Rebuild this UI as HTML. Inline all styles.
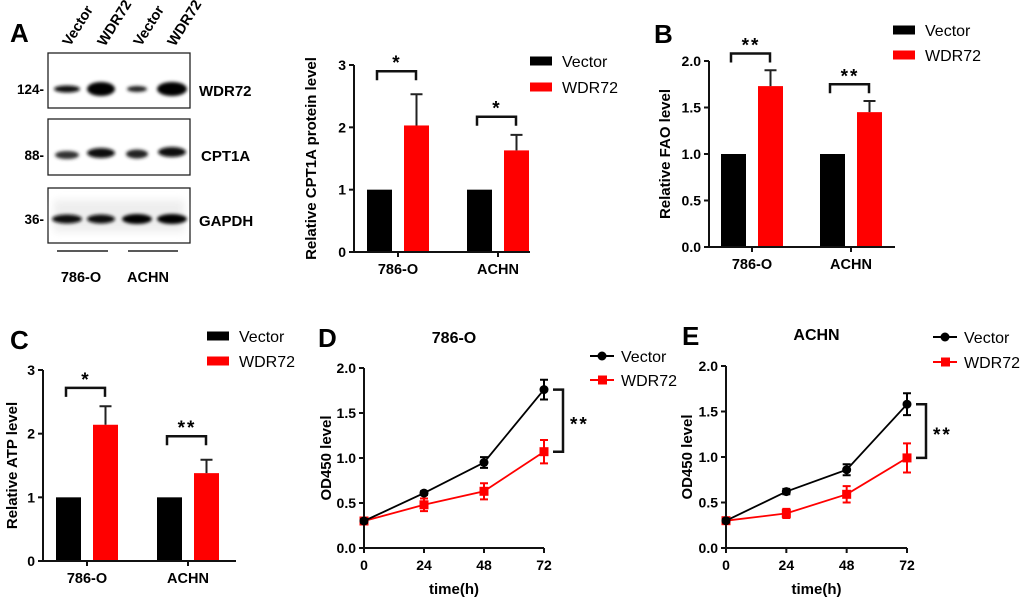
<!DOCTYPE html>
<html><head><meta charset="utf-8"><style>
html,body{margin:0;padding:0;background:#fff}
svg{display:block;font-family:"Liberation Sans",Arial,sans-serif}
.b{font-weight:bold}
</style></head><body>
<svg id="fig" width="1020" height="601" viewBox="0 0 1020 601" xmlns="http://www.w3.org/2000/svg">
<defs><filter id="blur" x="-50%" y="-100%" width="200%" height="300%"><feGaussianBlur stdDeviation="1.6"/></filter>
<filter id="blur2" x="-50%" y="-100%" width="200%" height="300%"><feGaussianBlur stdDeviation="4"/></filter></defs>
<g id="blot">
<text x="10" y="42" font-size="26" class="b">A</text>
<text transform="translate(70,47) rotate(-58)" font-size="14.5" class="b">Vector</text>
<text transform="translate(105,47) rotate(-58)" font-size="14.5" class="b">WDR72</text>
<text transform="translate(141,47) rotate(-58)" font-size="14.5" class="b">Vector</text>
<text transform="translate(175,47) rotate(-58)" font-size="14.5" class="b">WDR72</text>
<g>
<rect x="48" y="53" width="142" height="55" fill="#fff" stroke="#222" stroke-width="1.3"/>
<ellipse cx="67" cy="89" rx="13" ry="3.5" fill="#111" filter="url(#blur)"/>
<ellipse cx="101" cy="89" rx="14" ry="7" fill="#000" filter="url(#blur)"/>
<ellipse cx="137" cy="89" rx="10" ry="3" fill="#222" filter="url(#blur)"/>
<ellipse cx="172" cy="89" rx="15" ry="7" fill="#000" filter="url(#blur)"/>
</g>
<g>
<rect x="48" y="119" width="142" height="56" fill="#fff" stroke="#222" stroke-width="1.3"/>
<ellipse cx="67" cy="155" rx="12" ry="4" fill="#333" filter="url(#blur)"/>
<ellipse cx="101" cy="153" rx="14" ry="5" fill="#111" filter="url(#blur)"/>
<ellipse cx="137" cy="154" rx="11" ry="4.5" fill="#222" filter="url(#blur)"/>
<ellipse cx="172" cy="152" rx="14" ry="5" fill="#111" filter="url(#blur)"/>
</g>
<g>
<rect x="48" y="188" width="142" height="55" fill="#fff" stroke="#222" stroke-width="1.3"/>
<rect x="54" y="200" width="130" height="32" fill="#eee" filter="url(#blur2)"/>
<ellipse cx="67" cy="219" rx="15" ry="4.5" fill="#111" filter="url(#blur)"/>
<ellipse cx="101" cy="219" rx="14" ry="4.5" fill="#111" filter="url(#blur)"/>
<ellipse cx="137" cy="219" rx="15" ry="5" fill="#000" filter="url(#blur)"/>
<ellipse cx="172" cy="219" rx="15" ry="5" fill="#000" filter="url(#blur)"/>
</g>
<text x="44" y="94" font-size="13.5" class="b" text-anchor="end">124-</text>
<text x="44" y="160" font-size="13.5" class="b" text-anchor="end">88-</text>
<text x="44" y="224" font-size="13.5" class="b" text-anchor="end">36-</text>
<text x="199" y="96" font-size="15" class="b">WDR72</text>
<text x="201" y="161" font-size="15" class="b">CPT1A</text>
<text x="199" y="226" font-size="15" class="b">GAPDH</text>
<line x1="57" y1="251" x2="108" y2="251" stroke="#222" stroke-width="1.5"/>
<line x1="128" y1="251" x2="178" y2="251" stroke="#222" stroke-width="1.5"/>
<text x="81" y="282" font-size="14.5" class="b" text-anchor="middle">786-O</text>
<text x="148" y="282" font-size="14.5" class="b" text-anchor="middle">ACHN</text>
</g>
</svg>
<script>
const cats = ["786-O", "ACHN"];
const aVector = [1, 1];
const aWdr = [2.03, 1.63];
const aWdrErr = [0.5, 0.25];
const aSig = ["*", "*"];
const aSigLevel = [2.9, 2.17];
const aTicks = [0, 1, 2, 3];
const bVector = [1, 1];
const bWdr = [1.73, 1.45];
const bWdrErr = [0.17, 0.12];
const bSig = ["**", "**"];
const bSigLevel = [2.08, 1.75];
const bTicks = [0, 0.5, 1.0, 1.5, 2.0];
const bTickLabels = ["0.0", "0.5", "1.0", "1.5", "2.0"];
const cVector = [1, 1];
const cWdr = [2.14, 1.38];
const cWdrErr = [0.29, 0.21];
const cSig = ["*", "**"];
const cSigLevel = [2.72, 1.96];
const times = [0, 24, 48, 72];
const lineTicks = ["0.0", "0.5", "1.0", "1.5", "2.0"];
const dVec = [0.3, 0.61, 0.95, 1.76];
const dVecErr = [0.02, 0.02, 0.06, 0.11];
const dWdr = [0.3, 0.48, 0.63, 1.07];
const dWdrErr = [0.03, 0.07, 0.09, 0.13];
const eVec = [0.3, 0.62, 0.86, 1.58];
const eVecErr = [0.02, 0.03, 0.06, 0.12];
const eWdr = [0.3, 0.38, 0.59, 0.99];
const eWdrErr = [0.03, 0.05, 0.09, 0.16];

const NS = "http://www.w3.org/2000/svg";
const fig = document.getElementById("fig");
function mk(tag, attrs, parent) {
  const el = document.createElementNS(NS, tag);
  for (const k in attrs) el.setAttribute(k, attrs[k]);
  (parent || fig).appendChild(el);
  return el;
}
function txt(s, attrs, parent) { const t = mk("text", attrs, parent); t.textContent = s; return t; }

function legend(g, x, y1, y2, line) {
  const items = [["Vector", "#000", y1], ["WDR72", "#f00", y2]];
  items.forEach(function (it) {
    const lg = mk("g", {}, g);
    
    
    if (line) {
      mk("line", {x1: x, y1: it[2], x2: x + 24, y2: it[2], stroke: it[1], "stroke-width": 2}, lg);
      if (it[0] === "Vector") mk("circle", {cx: x + 12, cy: it[2], r: 4.5, fill: it[1]}, lg);
      else mk("rect", {x: x + 8, y: it[2] - 4.5, width: 9, height: 9, fill: it[1]}, lg);
      txt(it[0], {x: x + 31, y: it[2] + 6, "font-size": 16}, lg);
    } else {
      mk("rect", {x: x, y: it[2] - 4.5, width: 22, height: 9, fill: it[1]}, lg);
      txt(it[0], {x: x + 32, y: it[2] + 6, "font-size": 16}, lg);
    }
  });
}

function barChart(c) {
  const g = mk("g", {});
  
  
  const sy = (c.y0 - c.yTop) / c.yMax;
  const Y = function (v) { return c.y0 - v * sy; };
  const gx = function (i) { return c.ax + c.off + i * c.spacing; };
  cats.forEach(function (cat, i) {
    const cx = gx(i);
    const b1 = mk("rect", {x: cx - 31, y: Y(c.vec[i]), width: 25, height: c.y0 - Y(c.vec[i]), fill: "#000"}, g);
    
    
    const b2 = mk("rect", {x: cx + 6, y: Y(c.wdr[i]), width: 25, height: c.y0 - Y(c.wdr[i]), fill: "#f00"}, g);
    
    
    const ex = cx + 18.5, et = Y(c.wdr[i] + c.err[i]);
    const eb = mk("path", {d: "M" + ex + "," + Y(c.wdr[i]) + "V" + et + "M" + (ex - 6) + "," + et + "H" + (ex + 6), stroke: "#222", "stroke-width": 2, fill: "none"}, g);
    
    
    const by = Y(c.sigLevel[i]);
    const br = mk("path", {d: "M" + (cx - 21) + "," + (by + 9) + "V" + by + "H" + (cx + 18) + "V" + (by + 9), stroke: "#111", "stroke-width": 2.5, fill: "none"}, g);
    
    
    const st = txt(c.sig[i], {x: cx - 1, y: by - 2, "font-size": 19, "text-anchor": "middle", class: "b", "letter-spacing": 2}, g);
    
    
    mk("line", {x1: cx, y1: c.y0, x2: cx, y2: c.y0 + 5, stroke: "#111", "stroke-width": 2}, g);
    const cl = txt(cat, {x: cx, y: c.y0 + 22, "font-size": 14.5, "text-anchor": "middle", class: "b"}, g);
    
    
  });
  const ax = mk("path", {d: "M" + c.ax + "," + c.yTop + "V" + c.y0 + "H" + c.xEnd, stroke: "#111", "stroke-width": 2, fill: "none"}, g);
  
  
  c.ticks.forEach(function (t, k) {
    mk("line", {x1: c.ax - 5, y1: Y(t), x2: c.ax, y2: Y(t), stroke: "#111", "stroke-width": 2}, g);
    const tl = txt(c.tickLabels[k], {x: c.ax - 8, y: Y(t) + 5, "font-size": 14, "text-anchor": "end", class: "b"}, g);
    
    
  });
  const yt = txt(c.ylabel, {transform: "translate(" + c.ylx + "," + ((c.y0 + c.yTop) / 2) + ") rotate(-90)", "font-size": 15, "text-anchor": "middle", class: "b"}, g);
  
  
  if (c.letter) {
    const pl = txt(c.letter, {x: c.lx, y: c.ly, "font-size": 26, class: "b"}, g);
    
    
  }
  legend(g, c.legX, c.legY1, c.legY2, false);
}

function lineChart(c) {
  const g = mk("g", {});
  
  
  const sy = (c.y0 - c.yTop) / 2;
  const Y = function (v) { return c.y0 - v * sy; };
  const X = function (t) { return c.ax + t * (c.x72 - c.ax) / 72; };
  const ax = mk("path", {d: "M" + c.ax + "," + c.yTop + "V" + c.y0 + "H" + c.x72, stroke: "#111", "stroke-width": 2, fill: "none"}, g);
  
  
  lineTicks.forEach(function (l) {
    const v = parseFloat(l);
    mk("line", {x1: c.ax - 5, y1: Y(v), x2: c.ax, y2: Y(v), stroke: "#111", "stroke-width": 2}, g);
    const tl = txt(l, {x: c.ax - 8, y: Y(v) + 5, "font-size": 14, "text-anchor": "end", class: "b"}, g);
    
    
  });
  times.forEach(function (t) {
    mk("line", {x1: X(t), y1: c.y0, x2: X(t), y2: c.y0 + 5, stroke: "#111", "stroke-width": 2}, g);
    const tl = txt(String(t), {x: X(t), y: c.y0 + 22, "font-size": 14, "text-anchor": "middle", class: "b"}, g);
    
    
  });
  const xt = txt("time(h)", {x: (c.ax + c.x72) / 2, y: c.y0 + 46, "font-size": 15, "text-anchor": "middle", class: "b"}, g);
  
  
  const yt = txt("OD450 level", {transform: "translate(" + c.ylx + "," + ((c.y0 + c.yTop) / 2) + ") rotate(-90)", "font-size": 15, "text-anchor": "middle", class: "b"}, g);
  
  
  const tt = txt(c.title, {x: (c.ax + c.x72) / 2, y: c.titleY, "font-size": 16, "text-anchor": "middle", class: "b"}, g);
  
  
  const pl = txt(c.letter, {x: c.lx, y: c.ly, "font-size": 26, class: "b"}, g);
  
  
  [[c.wdr, c.wdrErr, "#f00", "wdr72"], [c.vec, c.vecErr, "#000", "vector"]].forEach(function (s) {
    const sg = mk("g", {}, g);
    
    
    const d = times.map(function (t, i) { return (i ? "L" : "M") + X(t) + "," + Y(s[0][i]); }).join("");
    mk("path", {d: d, stroke: s[2], "stroke-width": 1.8, fill: "none"}, sg);
    times.forEach(function (t, i) {
      const x = X(t), hi = Y(s[0][i] + s[1][i]), lo = Y(s[0][i] - s[1][i]);
      const eb = mk("path", {d: "M" + x + "," + hi + "V" + lo + "M" + (x - 4) + "," + hi + "H" + (x + 4) + "M" + (x - 4) + "," + lo + "H" + (x + 4), stroke: s[2], "stroke-width": 2, fill: "none"}, sg);
      
      
      let m;
      if (s[3] === "vector") m = mk("circle", {cx: x, cy: Y(s[0][i]), r: 4.5, fill: s[2]}, sg);
      else m = mk("rect", {x: x - 4.5, y: Y(s[0][i]) - 4.5, width: 9, height: 9, fill: s[2]}, sg);
      
      
    });
  });
  const y1 = Y(c.vec[3]), y2 = Y(c.wdr[3]);
  const br = mk("path", {d: "M" + (c.brX - 10) + "," + y1 + "H" + c.brX + "V" + y2 + "H" + (c.brX - 10), stroke: "#111", "stroke-width": 2.5, fill: "none"}, g);
  
  
  const st = txt("**", {x: c.brX + 7, y: (y1 + y2) / 2 + 10, "font-size": 19, class: "b", "letter-spacing": 2}, g);
  
  
  legend(g, c.legX, c.legY1, c.legY2, true);
}

barChart({name: "chart-cpt1a", vec: aVector, wdr: aWdr, err: aWdrErr, sig: aSig, sigLevel: aSigLevel,
  ticks: aTicks, tickLabels: ["0", "1", "2", "3"], ax: 354, y0: 252, yTop: 65, yMax: 3, off: 44, spacing: 100, xEnd: 530,
  ylabel: "Relative CPT1A protein level", ylx: 316, legX: 530, legY1: 61, legY2: 87});
barChart({name: "chart-fao", vec: bVector, wdr: bWdr, err: bWdrErr, sig: bSig, sigLevel: bSigLevel,
  ticks: bTicks, tickLabels: bTickLabels, ax: 709, y0: 247, yTop: 61, yMax: 2, off: 43, spacing: 99, xEnd: 895,
  ylabel: "Relative FAO level", ylx: 670, letter: "B", lx: 654, ly: 43, legX: 893, legY1: 30, legY2: 55});
barChart({name: "chart-atp", vec: cVector, wdr: cWdr, err: cWdrErr, sig: cSig, sigLevel: cSigLevel,
  ticks: aTicks, tickLabels: ["0", "1", "2", "3"], ax: 43, y0: 561, yTop: 370, yMax: 3, off: 44, spacing: 101, xEnd: 236,
  ylabel: "Relative ATP level", ylx: 17, letter: "C", lx: 10, ly: 349, legX: 207, legY1: 336, legY2: 361});
lineChart({name: "chart-od450-786o", title: "786-O", letter: "D", lx: 318, ly: 347, titleY: 343,
  vec: dVec, vecErr: dVecErr, wdr: dWdr, wdrErr: dWdrErr, ax: 364, x72: 544, y0: 548, yTop: 368,
  ylx: 331, brX: 563, legX: 590, legY1: 356, legY2: 380});
lineChart({name: "chart-od450-achn", title: "ACHN", letter: "E", lx: 682, ly: 345, titleY: 340,
  vec: eVec, vecErr: eVecErr, wdr: eWdr, wdrErr: eWdrErr, ax: 726, x72: 907, y0: 548, yTop: 366,
  ylx: 692, brX: 926, legX: 933, legY1: 337, legY2: 362});
</script>
</body></html>
